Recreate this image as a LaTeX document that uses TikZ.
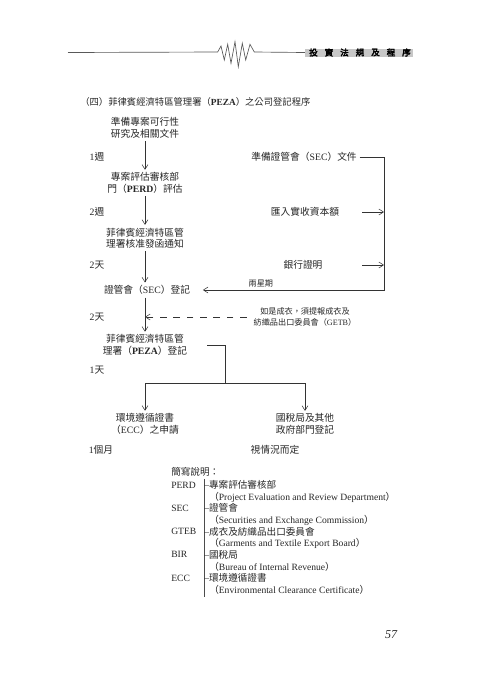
\documentclass[tikz,border=0pt]{standalone}
\usepackage{fontspec}
\setmainfont{Noto Sans CJK TC}
\newfontfamily\serifen{Liberation Serif}
\newfontfamily\cjkheavy{Noto Sans CJK TC}[FakeBold=3.5]
\newcommand\eng[1]{{\serifen #1}}
\usetikzlibrary{arrows.meta,positioning}

\begin{document}
\begin{tikzpicture}[x=0.75pt, y=-0.75pt, >={Straight Barb[length=3.5pt,width=4.5pt]},
  every node/.style={text=black!85},
  stepbox/.style={align=center, font=\fontsize{7.3}{8.6}\selectfont, inner sep=2pt},
  daylabel/.style={font=\fontsize{7.3}{8.6}\selectfont, inner sep=1pt},
  notebox/.style={align=center, font=\fontsize{6.1}{7.6}\selectfont, inner sep=2pt},
  legend/.style={anchor=west, inner sep=0pt, font=\fontsize{7.2}{8.6}\selectfont},
  flow/.style={draw=black!80, thin}]
  \useasboundingbox (0,0) rectangle (480,679);

  % header band
  \draw[black!65, line width=0.5pt] (68,52.5) -- (217.7,52) -- (221,46) -- (224.3,60) -- (227.7,44.3)
    -- (231,63.3) -- (235,41.7) -- (238.3,66.7) -- (242.3,43.3) -- (245.7,60) -- (250,44.3)
    -- (254.3,52) -- (305,52.5);
  \fill[black!22] (305,49) rectangle (413,57);
  \foreach \c [count=\i from 0] in {投,資,法,規,及,程,序}
    \node[font=\cjkheavy\fontsize{6.4}{7}\selectfont, text=black, inner sep=0pt] (head\i) at (313.5+15.5*\i,52.5) {\c};

  \node[anchor=west, inner sep=0pt, font=\fontsize{7}{8}\selectfont] (title) at (80,102)
    {（四）菲律賓經濟特區管理署（\eng{\bfseries PEZA}）之公司登記程序};

  % main column
  \node[stepbox] (prep) at (145,128) {準備專案可行性\\研究及相關文件};
  \node[stepbox] (perd) at (145,183) {專案評估審核部\\門（\eng{\bfseries PERD}）評估};
  \node[stepbox] (notice) at (145,238) {菲律賓經濟特區管\\理署核准發函通知};
  \node[stepbox] (sec) at (147,290) {證管會（\eng{SEC}）登記};
  \node[stepbox] (peza) at (145,345) {菲律賓經濟特區管\\理署（\eng{\bfseries PEZA}）登記};
  \node[stepbox] (ecc) at (145,424) {環境遵循證書\\（\eng{ECC}）之申請};
  \node[stepbox] (bir) at (305,424) {國稅局及其他\\政府部門登記};

  \draw[flow,->] (prep) -- (perd);
  \draw[flow,->] (perd) -- (notice);
  \draw[flow,->] (notice.south -| prep) -- (sec.north -| prep);
  \draw[flow,->] (sec.south -| prep) -- (peza.north -| prep);

  \node[daylabel] (wk1) at (97,157) {\eng{1}週};
  \node[daylabel] (wk2) at (97,212) {\eng{2}週};
  \node[daylabel] (dayA) at (97,265) {\eng{2}天};
  \node[daylabel] (dayB) at (97,317) {\eng{2}天};
  \node[daylabel] (dayC) at (97,370) {\eng{1}天};
  \node[daylabel] (month) at (101,450) {\eng{1}個月};
  \node[daylabel] (depends) at (275,450) {視情況而定};

  % right side
  \node[stepbox] (secdoc) at (304,157) {準備證管會（\eng{SEC}）文件};
  \node[stepbox] (capital) at (305,212) {匯入實收資本額};
  \node[stepbox] (bank) at (303,265) {銀行證明};
  \coordinate (rail) at (384,157);
  \coordinate (tail) at (362,212);
  \draw[flow] (secdoc.east) -- (rail);
  \draw[flow,->] (rail) |- ([xshift=7.5pt]sec.east) node[pos=0.84, above, notebox] (twoweeks) {兩星期};
  \draw[flow,->] (capital -| tail) -- (capital -| rail);
  \draw[flow,->] (bank -| tail) -- (bank -| rail);

  \node[notebox] (getb) at (305,317) {如是成衣，須提報成衣及\\紡織品出口委員會（\eng{GETB}）};
  \coordinate (join) at (145,317);
  \draw[flow,->, dash pattern=on 5pt off 5pt] ([xshift=-3pt]getb.west) -- (join);

  % split after PEZA
  \coordinate (fork) at (225,383);
  \draw[flow] ([xshift=13pt]peza.east) -| (fork);
  \draw[flow,->] (fork) -| (ecc);
  \draw[flow,->] (fork) -| (bir);

  % abbreviations
  \node[legend] (legendtitle) at (171,472) {簡寫說明：};
  \draw[black!70] (204,479) -- (204,597);
  \foreach \ab/\zh/\full [count=\i from 0] in {
      PERD/專案評估審核部/Project Evaluation and Review Department,
      SEC/證管會/Securities and Exchange Commission,
      GTEB/成衣及紡織品出口委員會/Garments and Textile Export Board,
      BIR/國稅局/Bureau of Internal Revenue,
      ECC/環境遵循證書/Environmental Clearance Certificate}{
    \node[legend] (abbr\i) at (171,485+23.25*\i) {\eng{\ab}};
    \node[legend] (zh\i) at (204,485+23.25*\i) {\eng{–}\zh};
    \node[legend] (full\i) at (209,497+23.25*\i) {（\eng{\full}）};
  }

  \node[font=\serifen\itshape\fontsize{9}{10}\selectfont] (page) at (391,635) {57};
\end{tikzpicture}
\end{document}
